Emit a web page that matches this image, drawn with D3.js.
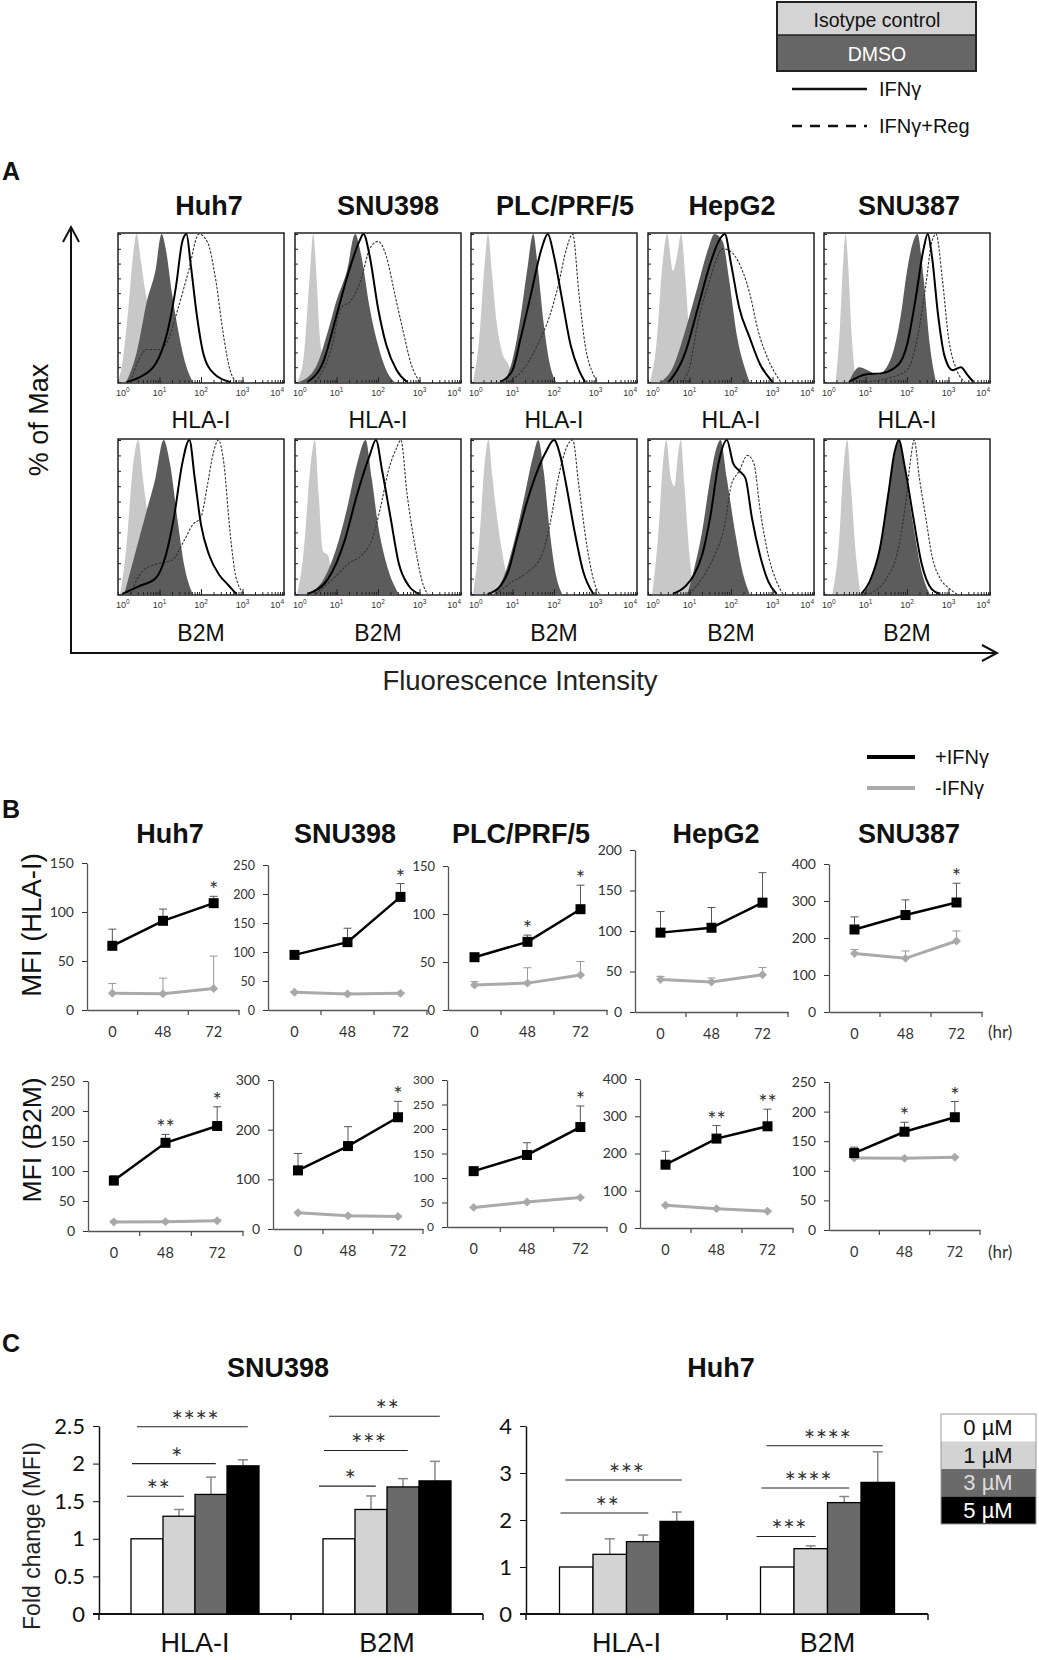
<!DOCTYPE html>
<html>
<head>
<meta charset="utf-8">
<script src="https://cdn.jsdelivr.net/npm/d3@7"></script>
<style>
body { margin: 0; background: #fff; }
svg { display: block; }
</style>
</head>
<body>
<script>
// ---------- data ----------
const cells = ["Huh7", "SNU398", "PLC/PRF/5", "HepG2", "SNU387"];
const markers = ["HLA-I", "B2M"];

// flow histograms, points are [log10 fluorescence, % of max]
const isoHLA = [
  [[0,0],[0.1,12],[0.25,50],[0.38,90],[0.45,100],[0.55,82],[0.68,58],[0.8,45],[0.95,20],[1.1,0]],
  [[0.05,0],[0.2,15],[0.35,70],[0.44,100],[0.52,70],[0.6,30],[0.7,14],[0.85,0]],
  [[0.05,0],[0.2,30],[0.33,80],[0.41,100],[0.5,75],[0.62,40],[0.75,20],[0.9,12],[1.05,0]],
  [[0.05,0],[0.2,25],[0.35,80],[0.46,100],[0.6,75],[0.7,85],[0.8,100],[0.9,70],[1.0,30],[1.12,0]],
  [[0.28,0],[0.38,35],[0.46,80],[0.52,100],[0.58,80],[0.66,35],[0.76,0]]
];
const dmsoHLA = [
  [[0.2,0],[0.45,20],[0.7,55],[0.9,75],[1.05,100],[1.15,90],[1.3,60],[1.45,35],[1.6,15],[1.8,0]],
  [[0.1,0],[0.5,10],[0.8,35],[1.0,55],[1.25,75],[1.45,100],[1.6,85],[1.8,50],[2.0,25],[2.2,8],[2.4,0]],
  [[0.8,0],[1.0,15],[1.2,45],[1.35,75],[1.5,100],[1.6,80],[1.75,40],[1.9,12],[2.05,0]],
  [[0.3,0],[0.6,10],[0.9,35],[1.2,65],[1.45,90],[1.6,100],[1.8,95],[1.95,70],[2.15,30],[2.35,8],[2.45,0]],
  [[0.6,0],[0.85,10],[1.05,8],[1.3,5],[1.6,15],[1.85,45],[2.0,75],[2.15,95],[2.25,100],[2.4,70],[2.55,25],[2.7,0]]
];
const ifnHLA = [
  [[0.2,0],[0.5,3],[0.9,12],[1.2,35],[1.4,65],[1.55,95],[1.65,100],[1.75,80],[1.9,45],[2.05,20],[2.3,6],[2.7,0]],
  [[0.3,0],[0.7,15],[1.0,45],[1.3,75],[1.55,95],[1.65,100],[1.8,85],[2.0,50],[2.2,25],[2.45,8],[2.7,0]],
  [[0.7,0],[1.0,8],[1.2,30],[1.45,60],[1.7,90],[1.85,100],[2.0,85],[2.2,55],[2.4,25],[2.6,8],[2.75,0]],
  [[0.5,0],[0.9,20],[1.2,50],[1.5,80],[1.7,95],[1.85,100],[2.0,80],[2.2,50],[2.45,30],[2.7,12],[3.0,0]],
  [[0.6,0],[1.0,5],[1.4,6],[1.8,12],[2.0,25],[2.2,55],[2.4,90],[2.5,100],[2.6,85],[2.75,45],[2.9,18],[3.1,8],[3.3,10],[3.45,5],[3.6,0]]
];
const regHLA = [
  [[0.3,0],[0.5,15],[0.7,22],[1.0,22],[1.2,28],[1.45,50],[1.7,75],[1.95,100],[2.15,95],[2.35,70],[2.55,30],[2.7,8],[2.85,0]],
  [[0.5,0],[0.9,25],[1.1,50],[1.35,55],[1.6,70],[1.8,90],[2.0,95],[2.2,85],[2.4,60],[2.6,35],[2.8,12],[3.0,0]],
  [[0.9,0],[1.3,10],[1.6,25],[1.9,45],[2.1,65],[2.3,90],[2.45,100],[2.6,60],[2.75,25],[2.95,5],[3.05,0]],
  [[0.8,0],[1.0,10],[1.2,40],[1.5,70],[1.8,90],[2.0,88],[2.2,80],[2.45,60],[2.65,35],[2.9,15],[3.2,0]],
  [[1.0,0],[1.6,3],[2.0,8],[2.25,30],[2.45,65],[2.6,95],[2.7,100],[2.85,70],[3.0,30],[3.2,8],[3.4,0]]
];
const isoB2M = [
  [[0.05,0],[0.2,30],[0.35,80],[0.49,100],[0.6,75],[0.75,45],[0.9,20],[1.05,0]],
  [[0.05,0],[0.2,25],[0.38,85],[0.48,100],[0.57,65],[0.67,28],[0.8,25],[0.9,10],[0.98,0]],
  [[0.05,0],[0.2,35],[0.33,85],[0.42,100],[0.52,75],[0.65,45],[0.8,20],[0.95,0]],
  [[0.1,0],[0.25,40],[0.36,85],[0.44,100],[0.55,75],[0.64,70],[0.72,90],[0.79,100],[0.88,70],[1.0,25],[1.12,0]],
  [[0.2,0],[0.35,30],[0.48,85],[0.56,100],[0.65,70],[0.77,25],[0.88,0]]
];
const dmsoB2M = [
  [[0.15,0],[0.4,25],[0.7,55],[0.9,75],[1.1,100],[1.25,85],[1.45,45],[1.6,18],[1.8,0]],
  [[0.3,0],[0.7,10],[1.0,30],[1.25,55],[1.5,85],[1.7,100],[1.85,75],[2.0,45],[2.2,20],[2.5,0]],
  [[0.55,0],[0.8,12],[1.05,35],[1.3,65],[1.5,90],[1.62,100],[1.75,80],[1.9,40],[2.05,12],[2.2,0]],
  [[0.95,0],[1.1,15],[1.3,40],[1.5,75],[1.65,95],[1.75,100],[1.9,75],[2.1,40],[2.3,12],[2.45,0]],
  [[0.95,0],[1.15,10],[1.35,30],[1.55,65],[1.7,90],[1.8,100],[1.95,80],[2.15,45],[2.35,15],[2.55,0]]
];
const ifnB2M = [
  [[0.1,0],[0.5,5],[0.9,10],[1.15,25],[1.35,50],[1.55,85],[1.72,100],[1.85,75],[2.0,45],[2.2,25],[2.45,12],[2.65,6],[2.85,0]],
  [[0.3,0],[0.8,10],[1.2,35],[1.5,65],[1.8,90],[1.95,100],[2.1,80],[2.3,50],[2.5,20],[2.75,5],[3.0,0]],
  [[0.4,0],[0.7,5],[0.9,15],[1.1,35],[1.35,60],[1.6,80],[1.8,92],[2.0,100],[2.15,90],[2.3,70],[2.5,40],[2.7,15],[2.95,0]],
  [[0.6,0],[0.9,5],[1.1,12],[1.3,25],[1.5,50],[1.7,85],[1.9,100],[2.05,85],[2.2,80],[2.35,75],[2.5,50],[2.7,25],[2.9,8],[3.1,0]],
  [[0.9,0],[1.1,8],[1.35,30],[1.55,65],[1.7,92],[1.8,100],[1.95,82],[2.15,50],[2.35,20],[2.6,3],[2.8,0]]
];
const regB2M = [
  [[0.3,0],[0.6,15],[1.0,20],[1.3,22],[1.6,35],[1.8,45],[2.0,50],[2.15,70],[2.3,92],[2.42,100],[2.55,85],[2.7,40],[2.85,10],[3.05,0]],
  [[0.5,0],[1.0,12],[1.3,20],[1.6,25],[1.85,35],[2.05,55],[2.25,80],[2.45,95],[2.55,100],[2.7,65],[2.9,30],[3.1,5],[3.2,0]],
  [[0.6,0],[1.0,8],[1.4,15],[1.7,25],[1.9,45],[2.1,75],[2.3,95],[2.45,100],[2.6,70],[2.8,30],[3.0,5],[3.1,0]],
  [[1.0,0],[1.3,10],[1.6,25],[1.85,45],[2.0,70],[2.2,80],[2.4,90],[2.55,85],[2.7,55],[2.9,25],[3.1,8],[3.25,0]],
  [[1.1,0],[1.5,10],[1.75,25],[1.95,55],[2.1,90],[2.17,100],[2.3,75],[2.45,50],[2.6,25],[2.8,10],[3.0,4],[3.2,0]]
];

// B: MFI time course
const hours = ["0", "48", "72"];
const hlaPlus     = [[65.5,91,109],[95,117,195],[55,71,105],[98,104,135],[223,262,296]];
const hlaPlusErr  = [[17,12,7],[3,24,23],[2,7,25],[26,25,37],[34,41,52]];
const hlaMinus    = [[17,16.5,22],[30.5,27.6,28.7],[26,28,36.5],[40,37,46],[158,145,192]];
const hlaMinusErr = [[10,16,33],[1.5,1.5,1.5],[3.5,16,14],[4,5,9],[11,20,27]];
const hlaSig      = [["","","*"],["","","*"],["","*","*"],["","",""],["","","*"]];
const hlaTicks    = [[0,50,100,150],[0,50,100,150,200,250],[0,50,100,150],[0,50,100,150,200],[0,100,200,300,400]];
const b2mPlus     = [[84,147,175],[118,167,225],[114,147,204],[170,240,273],[130,166,190.5]];
const b2mPlusErr  = [[8,14,32],[34,39,32],[7,25,43],[36,35,46],[10,16,26.5]];
const b2mMinus    = [[15,15.6,17],[32.7,26.7,25.3],[40,51,60],[61,52,45],[121.6,121,123]];
const b2mMinusErr = [[2,2,2],[1,1,1],[1,1,1],[1,1,1],[1,1,1]];
const b2mSig      = [["","**","*"],["","","*"],["","","*"],["","**","**"],["","*","*"]];
const b2mTicks    = [[0,50,100,150,200,250],[0,100,200,300],[0,50,100,150,200,250,300],[0,100,200,300,400],[0,50,100,150,200,250]];

// C: fold change of MFI with regorafenib
const doses = ["0 µM", "1 µM", "3 µM", "5 µM"];
const snuFold = [[1,1.3,1.59,1.97],[1,1.39,1.69,1.77]];
const snuErr  = [[0,0.09,0.23,0.08],[0,0.18,0.11,0.26]];
const snuTicks = [0,0.5,1,1.5,2,2.5];
const snuSig = [
  {g:"HLA-I", to:1, label:"**", y:1.565}, {g:"HLA-I", to:2, label:"*", y:2.0}, {g:"HLA-I", to:3, label:"****", y:2.49},
  {g:"B2M", to:1, label:"*", y:1.7}, {g:"B2M", to:2, label:"***", y:2.175}, {g:"B2M", to:3, label:"**", y:2.63}
];
const huhFold = [[1,1.27,1.54,1.97],[1,1.39,2.37,2.8]];
const huhErr  = [[0,0.33,0.14,0.2],[0,0.06,0.13,0.65]];
const huhTicks = [0,1,2,3,4];
const huhSig = [
  {g:"HLA-I", to:2, label:"**", y:2.15}, {g:"HLA-I", to:3, label:"***", y:2.85},
  {g:"B2M", to:1, label:"***", y:1.65}, {g:"B2M", to:2, label:"****", y:2.68}, {g:"B2M", to:3, label:"****", y:3.58}
];

// ---------- drawing ----------
const W = 1039, H = 1660;
const ARIAL = '"Liberation Sans", Arial, sans-serif';
const CAL = 'Lato, "Open Sans", sans-serif';

const svg = d3.select("body").append("svg").attr("width", W).attr("height", H);
svg.append("rect").attr("width", W).attr("height", H).attr("fill", "#fff");

function txt(g, s, x, y, size, opts) {
  opts = opts || {};
  return g.append("text").text(s)
    .attr("x", x).attr("y", y)
    .attr("font-family", opts.font || ARIAL)
    .attr("font-size", size)
    .attr("font-weight", opts.bold ? "bold" : null)
    .attr("text-anchor", opts.anchor || "middle")
    .attr("fill", opts.fill || "#111");
}

// top legend
const leg = svg.append("g");
leg.append("rect").attr("x", 777).attr("y", 2).attr("width", 199).attr("height", 33).attr("fill", "#d4d4d4");
leg.append("rect").attr("x", 777).attr("y", 35).attr("width", 199).attr("height", 36).attr("fill", "#666");
leg.append("rect").attr("x", 777).attr("y", 2).attr("width", 199).attr("height", 69)
  .attr("fill", "none").attr("stroke", "#222").attr("stroke-width", 2);
leg.append("line").attr("x1", 777).attr("x2", 976).attr("y1", 35).attr("y2", 35).attr("stroke", "#222").attr("stroke-width", 1.5);
txt(leg, "Isotype control", 877, 27, 19.5);
txt(leg, "DMSO", 877, 61, 19.5, {fill: "#fff"});
leg.append("line").attr("x1", 792).attr("x2", 867).attr("y1", 89).attr("y2", 89).attr("stroke", "#111").attr("stroke-width", 2.5);
txt(leg, "IFNγ", 879, 96, 20, {anchor: "start"});
leg.append("line").attr("x1", 792).attr("x2", 867).attr("y1", 126).attr("y2", 126)
  .attr("stroke", "#111").attr("stroke-width", 2.5).attr("stroke-dasharray", "10,8");
txt(leg, "IFNγ+Reg", 879, 133, 20, {anchor: "start"});

// ----- panel A -----
const gA = svg.append("g");
txt(gA, "A", 2, 180, 25, {bold: true, anchor: "start"});
const titleAx = [209, 388, 565, 732, 909];
cells.forEach((c, i) => txt(gA, c, titleAx[i], 215, 27, {bold: true}));

// axis arrows
gA.append("path").attr("d", "M71,227 V653 H996").attr("fill", "none").attr("stroke", "#111").attr("stroke-width", 2);
gA.append("path").attr("d", "M63,242 L71,227 L79,242").attr("fill", "none").attr("stroke", "#111").attr("stroke-width", 2);
gA.append("path").attr("d", "M982,645 L997,653 L982,661").attr("fill", "none").attr("stroke", "#111").attr("stroke-width", 2);
txt(gA, "% of Max", 0, 0, 27).attr("transform", "translate(48,420) rotate(-90)");
txt(gA, "Fluorescence Intensity", 520, 690, 27.5, {fill: "#222"});

const boxX = [118, 295, 471, 648, 824], boxW = 166;
const rowsA = [
  {y: 233, h: 150, label: "HLA-I", labelY: 428, iso: isoHLA, dmso: dmsoHLA, ifn: ifnHLA, reg: regHLA},
  {y: 439, h: 156, label: "B2M", labelY: 641, iso: isoB2M, dmso: dmsoB2M, ifn: ifnB2M, reg: regB2M}
];

function histPanel(row, i) {
  const bx = boxX[i], by = row.y, bh = row.h;
  const g = gA.append("g");
  const xs = d3.scaleLog().domain([1, 1e4]).range([bx, bx + boxW]);
  const ys = d3.scaleLinear().domain([0, 100]).range([by + bh - 1, by + 1]);
  const px = d => xs(Math.pow(10, d[0]));
  const area = d3.area().x(px).y0(ys(0)).y1(d => ys(d[1])).curve(d3.curveMonotoneX);
  const line = d3.line().x(px).y(d => ys(d[1])).curve(d3.curveMonotoneX);

  g.append("path").datum(row.iso[i]).attr("d", area).attr("fill", "#c8c8c8");
  g.append("path").datum(row.dmso[i]).attr("d", area).attr("fill", "#5c5c5c");
  g.append("path").datum(row.reg[i]).attr("d", line).attr("fill", "none")
    .attr("stroke", "#333").attr("stroke-width", 1.1).attr("stroke-dasharray", "2.5,1.5");
  g.append("path").datum(row.ifn[i]).attr("d", line).attr("fill", "none")
    .attr("stroke", "#000").attr("stroke-width", 2);

  g.append("rect").attr("x", bx).attr("y", by).attr("width", boxW).attr("height", bh)
    .attr("fill", "none").attr("stroke", "#111").attr("stroke-width", 1.4);

  // inner log ticks along the bottom, even ticks along the left
  const minor = g.append("g").attr("transform", `translate(0,${by + bh})`)
    .call(d3.axisBottom(xs).tickValues(xs.ticks()).tickSize(-3).tickSizeOuter(0).tickFormat(""));
  minor.select(".domain").remove();
  minor.selectAll("line").attr("stroke", "#222");
  const major = g.append("g").attr("transform", `translate(0,${by + bh})`)
    .call(d3.axisBottom(xs).tickValues([10, 100, 1000]).tickSize(-6).tickSizeOuter(0).tickFormat(""));
  major.select(".domain").remove();
  major.selectAll("line").attr("stroke", "#222");
  const left = g.append("g").attr("transform", `translate(${bx},0)`)
    .call(d3.axisLeft(ys).ticks(10).tickSize(-3).tickSizeOuter(0).tickFormat(""));
  left.select(".domain").remove();
  left.selectAll("line").attr("stroke", "#222");

  [1, 10, 100, 1000, 10000].forEach((v, k) => {
    const anchor = k === 0 ? "start" : (k === 4 ? "end" : "middle");
    const t = txt(g, "10", xs(v) + (k === 0 ? -2 : 0), by + bh + 13, 9, {fill: "#333", anchor: anchor});
    t.append("tspan").text(k).attr("dy", -4).attr("font-size", 6.5);
  });
  txt(g, row.label, bx + boxW / 2, row.labelY, 23);
}
rowsA.forEach(row => cells.forEach((c, i) => histPanel(row, i)));

// ----- panel B -----
const gB = svg.append("g");
txt(gB, "B", 2, 818, 25, {bold: true, anchor: "start"});
gB.append("line").attr("x1", 867).attr("x2", 915).attr("y1", 757).attr("y2", 757).attr("stroke", "#000").attr("stroke-width", 4);
txt(gB, "+IFNγ", 935, 764, 20, {anchor: "start"});
gB.append("line").attr("x1", 867).attr("x2", 915).attr("y1", 788).attr("y2", 788).attr("stroke", "#aaa").attr("stroke-width", 4);
txt(gB, "-IFNγ", 935, 795, 20, {anchor: "start"});

const titleBx = [170, 345, 521, 716, 909];
cells.forEach((c, i) => txt(gB, c, titleBx[i], 843, 27, {bold: true}));
txt(gB, "MFI (HLA-I)", 0, 0, 27.5).attr("transform", "translate(41,925) rotate(-90)");
txt(gB, "MFI (B2M)", 0, 0, 26.5).attr("transform", "translate(41,1140) rotate(-90)");

const bLayout = [
  {x0: [87, 268, 448, 635, 829], x1: [239, 427, 607, 788, 982], yTop: [863, 865, 866, 850, 864],
   yBot: [1010, 1010, 1010, 1012, 1012], fs: [14, 12.5, 13, 14, 14],
   plus: hlaPlus, plusErr: hlaPlusErr, minus: hlaMinus, minusErr: hlaMinusErr, sig: hlaSig, ticks: hlaTicks},
  {x0: [88, 273, 447, 640, 829], x1: [243, 423, 607, 793, 980], yTop: [1081, 1080, 1080, 1079, 1082],
   yBot: [1231, 1229, 1227, 1228, 1230], fs: [14, 14, 12, 14, 14],
   plus: b2mPlus, plusErr: b2mPlusErr, minus: b2mMinus, minusErr: b2mMinusErr, sig: b2mSig, ticks: b2mTicks}
];

function linePanel(L, i) {
  const g = gB.append("g");
  const x0 = L.x0[i], x1 = L.x1[i], yT = L.yTop[i], yB = L.yBot[i];
  const ticks = L.ticks[i];
  const ys = d3.scaleLinear().domain([0, d3.max(ticks)]).range([yB, yT]);
  const xs = d3.scaleBand().domain(hours).range([x0, x1]);
  const cx = h => xs(h) + xs.bandwidth() / 2;

  const ya = g.append("g").attr("transform", `translate(${x0},0)`)
    .call(d3.axisLeft(ys).tickValues(ticks).tickSize(5).tickSizeOuter(0).tickPadding(8));
  ya.attr("font-family", CAL).attr("font-size", L.fs[i]).attr("color", "#333");
  ya.select(".domain").attr("stroke", "#555").attr("stroke-width", 1.3);

  const xa = g.append("g").attr("transform", `translate(0,${yB})`)
    .call(d3.axisBottom(xs).tickSize(0).tickSizeOuter(0).tickPadding(17));
  xa.attr("font-family", CAL).attr("font-size", 14.5).attr("color", "#333");
  xa.select(".domain").attr("stroke", "#555").attr("stroke-width", 1.3);
  g.selectAll("line.bound").data(hours).join("line").attr("class", "bound")
    .attr("x1", d => xs(d) + xs.bandwidth()).attr("x2", d => xs(d) + xs.bandwidth())
    .attr("y1", yB).attr("y2", yB + 5).attr("stroke", "#555").attr("stroke-width", 1.3);

  function series(vals, errs, color, width, errColor) {
    const pts = vals.map((v, k) => ({h: hours[k], v: v, e: errs[k]}));
    const eb = g.append("g").attr("stroke", errColor).attr("stroke-width", 1);
    pts.forEach(p => {
      const x = cx(p.h), yt = ys(p.v + p.e);
      eb.append("line").attr("x1", x).attr("x2", x).attr("y1", ys(p.v)).attr("y2", yt);
      eb.append("line").attr("x1", x - 4).attr("x2", x + 4).attr("y1", yt).attr("y2", yt);
    });
    g.append("path").datum(pts)
      .attr("d", d3.line().x(p => cx(p.h)).y(p => ys(p.v)))
      .attr("fill", "none").attr("stroke", color).attr("stroke-width", width);
    return pts;
  }
  const mp = series(L.minus[i], L.minusErr[i], "#aaa", 3, "#999");
  g.selectAll("path.dia").data(mp).join("path").attr("class", "dia")
    .attr("d", d3.symbol(d3.symbolSquare, 40))
    .attr("transform", p => `translate(${cx(p.h)},${ys(p.v)}) rotate(45)`)
    .attr("fill", "#a8a8a8");
  const pp = series(L.plus[i], L.plusErr[i], "#000", 2.5, "#555");
  g.selectAll("rect.sq").data(pp).join("rect").attr("class", "sq")
    .attr("x", p => cx(p.h) - 5).attr("y", p => ys(p.v) - 5)
    .attr("width", 10).attr("height", 10).attr("fill", "#000");
  pp.forEach((p, k) => {
    const s = L.sig[i][k];
    if (s) txt(g, s, cx(p.h), ys(p.v + p.e) + 1, 22, {font: CAL, fill: "#333"});
  });
}
bLayout.forEach(L => cells.forEach((c, i) => linePanel(L, i)));
txt(gB, "(hr)", 988, 1038, 17, {font: CAL, anchor: "start", fill: "#333"});
txt(gB, "(hr)", 988, 1258, 17, {font: CAL, anchor: "start", fill: "#333"});

// ----- panel C -----
const gC = svg.append("g");
txt(gC, "C", 2, 1352, 25, {bold: true, anchor: "start"});
const doseFill = ["#ffffff", "#d3d3d3", "#6a6a6a", "#000000"];

function barPanel(cfg) {
  const g = gC.append("g");
  const yB = 1614, yT = 1426;
  const ys = d3.scaleLinear().domain([0, d3.max(cfg.ticks)]).range([yB, yT]);
  const xs = d3.scaleBand().domain(markers).range([cfg.x0, cfg.x1]);
  const bw = xs.bandwidth();
  const xi = d3.scaleBand().domain(doses).range([bw / 6, bw * 5 / 6]);

  txt(g, cfg.title, cfg.titleX, 1377, 27, {bold: true});

  const ya = g.append("g").attr("transform", `translate(${cfg.x0},0)`)
    .call(d3.axisLeft(ys).tickValues(cfg.ticks).tickFormat(d3.format("")).tickSize(6).tickSizeOuter(0).tickPadding(8));
  ya.attr("font-family", CAL).attr("font-size", 22).attr("color", "#111");
  ya.select(".domain").attr("stroke-width", 1.5);

  g.append("line").attr("x1", cfg.x0 - 6).attr("x2", cfg.x1).attr("y1", yB).attr("y2", yB)
    .attr("stroke", "#111").attr("stroke-width", 1.8);
  [cfg.x0, cfg.x0 + bw, cfg.x1].forEach(x => {
    g.append("line").attr("x1", x).attr("x2", x).attr("y1", yB).attr("y2", yB + 6)
      .attr("stroke", "#111").attr("stroke-width", 1.5);
  });

  markers.forEach((m, gi) => {
    const gx = xs(m);
    doses.forEach((d, k) => {
      const v = cfg.vals[gi][k], e = cfg.errs[gi][k];
      const x = gx + xi(d);
      if (e > 0) {
        const xc = x + xi.bandwidth() / 2, yt = ys(v + e);
        g.append("line").attr("x1", xc).attr("x2", xc).attr("y1", ys(v)).attr("y2", yt).attr("stroke", "#888").attr("stroke-width", 1.5);
        g.append("line").attr("x1", xc - 5).attr("x2", xc + 5).attr("y1", yt).attr("y2", yt).attr("stroke", "#888").attr("stroke-width", 1.5);
      }
      g.append("rect").attr("x", x).attr("y", ys(v)).attr("width", xi.bandwidth()).attr("height", yB - ys(v))
        .attr("fill", doseFill[k]).attr("stroke", "#000").attr("stroke-width", 1.3);
    });
    txt(g, m, gx + bw / 2, 1652, 27);
  });

  cfg.sig.forEach(s => {
    const gx = xs(s.g);
    const xa = gx + xi(doses[0]) - 4 + 5 * (s.to - 1);
    const xb = gx + xi(doses[s.to]) + xi.bandwidth() * 0.65;
    const y = ys(s.y);
    g.append("line").attr("x1", xa).attr("x2", xb).attr("y1", y).attr("y2", y).attr("stroke", "#222").attr("stroke-width", 1.1);
    txt(g, s.label, (xa + xb) / 2 + 3, y + 4, 27, {font: CAL, fill: "#333"}).attr("letter-spacing", 0.5);
  });
}
barPanel({title: "SNU398", titleX: 278, x0: 99, x1: 483, ticks: snuTicks, vals: snuFold, errs: snuErr, sig: snuSig});
barPanel({title: "Huh7", titleX: 721, x0: 526, x1: 928, ticks: huhTicks, vals: huhFold, errs: huhErr, sig: huhSig});
txt(gC, "Fold change (MFI)", 0, 0, 23, {fill: "#222"}).attr("transform", "translate(40,1536) rotate(-90)");

// dose legend
const lg = gC.append("g");
const legText = ["#111", "#111", "#ddd", "#fff"];
doses.forEach((d, k) => {
  lg.append("rect").attr("x", 941).attr("y", 1414 + k * 27.5).attr("width", 95).attr("height", 27.5).attr("fill", doseFill[k]);
  txt(lg, d, 988, 1414 + k * 27.5 + 21, 22, {fill: legText[k]});
});
lg.append("rect").attr("x", 941).attr("y", 1414).attr("width", 95).attr("height", 110)
  .attr("fill", "none").attr("stroke", "#999").attr("stroke-width", 1);
</script>
</body>
</html>
